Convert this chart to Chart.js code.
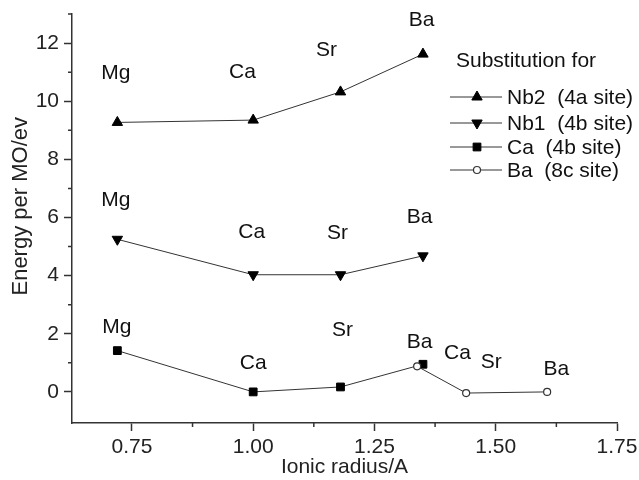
<!DOCTYPE html>
<html><head><meta charset="utf-8">
<script src="https://cdn.jsdelivr.net/npm/chart.js@4"></script>
<style>html,body{margin:0;padding:0;background:#fff}#wrap{width:639px;height:480px}</style>
</head><body><div id="wrap"><canvas id="c" width="639" height="480"></canvas></div>
<script>
// ---- data ----
const nb2X = [0.72, 1.00, 1.18, 1.35];
const nb2Y = [9.27, 9.35, 10.32, 11.62];
const nb1X = [0.72, 1.00, 1.18, 1.35];
const nb1Y = [5.25, 4.03, 4.03, 4.68];
const ca4bX = [0.72, 1.00, 1.18, 1.35];
const ca4bY = [1.42, 0.0, 0.17, 0.95];
const ba8cX = [1.338, 1.439, 1.606];
const ba8cY = [0.88, -0.04, 0.0];
const seriesNames = ['Nb2  (4a site)', 'Nb1  (4b site)', 'Ca  (4b site)', 'Ba  (8c site)'];
const xMajorTicks = [0.75, 1.00, 1.25, 1.50, 1.75];
const xMinorTicks = [0.875, 1.125, 1.375, 1.625];
const yMajorTicks = [0, 2, 4, 6, 8, 10, 12];
const yMinorTicks = [1, 3, 5, 7, 9, 11, 13];
const labelText = ['Mg','Ca','Sr','Ba', 'Mg','Ca','Sr','Ba', 'Mg','Ca','Sr','Ba','Ca','Sr','Ba'];
const labelX = [0.717,0.978,1.151,1.347, 0.717,0.997,1.174,1.343, 0.719,1.0,1.184,1.343,1.421,1.491,1.625];
const labelY = [10.97,11.0,11.76,12.79, 6.6,5.5,5.47,6.02, 2.24,1.0,2.13,1.72,1.34,1.03,0.79];

const FONT = "'Liberation Sans', Arial, sans-serif";
Chart.defaults.font.family = FONT;
Chart.defaults.color = '#222';

const pts = (xs, ys) => xs.map((x, i) => ({x, y: ys[i]}));

const styles = [
  {pointStyle:'triangle', radius:6, rotation:0, fill:'#000', border:'#000', bw:1},
  {pointStyle:'triangle', radius:6, rotation:180, fill:'#000', border:'#000', bw:1},
  {pointStyle:'rect', radius:5.5, rotation:0, fill:'#000', border:'#000', bw:1},
  {pointStyle:'circle', radius:3.5, rotation:0, fill:'#fff', border:'#333', bw:1.2}
];
const seriesData = [pts(nb2X,nb2Y), pts(nb1X,nb1Y), pts(ca4bX,ca4bY), pts(ba8cX,ba8cY)];

const datasets = seriesData.map((d, i) => ({
  label: seriesNames[i],
  data: d,
  showLine: true,
  borderColor: '#333',
  borderWidth: 1,
  pointStyle: styles[i].pointStyle,
  pointRadius: styles[i].radius,
  pointRotation: styles[i].rotation,
  pointBackgroundColor: styles[i].fill,
  pointBorderColor: styles[i].border,
  pointBorderWidth: styles[i].bw,
  order: i === 3 ? 0 : 1
}));

const minorTicksPlugin = {
  id: 'minorTicks',
  afterDraw(chart) {
    const {ctx, scales:{x, y}} = chart;
    ctx.save();
    ctx.strokeStyle = '#333';
    ctx.lineWidth = 1.5;
    ctx.beginPath();
    xMinorTicks.forEach(v => {
      const px = x.getPixelForValue(v);
      ctx.moveTo(px, x.top); ctx.lineTo(px, x.top + 4);
    });
    yMinorTicks.forEach(v => {
      const py = y.getPixelForValue(v);
      ctx.moveTo(y.right, py); ctx.lineTo(y.right - 4, py);
    });
    ctx.stroke();
    ctx.restore();
  }
};

const labelsPlugin = {
  id: 'pointLabels',
  afterDatasetsDraw(chart) {
    const {ctx, scales:{x, y}} = chart;
    ctx.save();
    ctx.fillStyle = '#111';
    ctx.font = '21px ' + FONT;
    ctx.textAlign = 'center';
    ctx.textBaseline = 'middle';
    labelText.forEach((t, i) => {
      ctx.fillText(t, x.getPixelForValue(labelX[i]), y.getPixelForValue(labelY[i]));
    });
    ctx.restore();
  }
};

const legendPlugin = {
  id: 'insideLegend',
  afterDatasetsDraw(chart) {
    const ctx = chart.ctx;
    ctx.save();
    ctx.fillStyle = '#111';
    ctx.font = '21px ' + FONT;
    ctx.textAlign = 'left';
    ctx.textBaseline = 'middle';
    ctx.fillText('Substitution for', 456, 61);
    const rows = [97, 123, 147, 170];
    chart.data.datasets.forEach((ds, i) => {
      const yy = rows[i];
      ctx.strokeStyle = '#333';
      ctx.lineWidth = 1;
      ctx.beginPath(); ctx.moveTo(450, yy); ctx.lineTo(502, yy); ctx.stroke();
      ctx.fillStyle = ds.pointBackgroundColor;
      ctx.strokeStyle = ds.pointBorderColor;
      ctx.lineWidth = ds.pointBorderWidth;
      Chart.helpers.drawPoint(ctx, {pointStyle: ds.pointStyle, radius: ds.pointRadius, rotation: ds.pointRotation, borderWidth: ds.pointBorderWidth}, 477, yy);
      ctx.fillStyle = '#111';
      ctx.fillText(ds.label, 507, yy + 1);
    });
    ctx.restore();
  }
};

new Chart(document.getElementById('c'), {
  type: 'scatter',
  data: {datasets},
  options: {
    responsive: false,
    animation: false,
    devicePixelRatio: 1,
    layout: {padding: {left: 0, right: 22, top: 14, bottom: 0}},
    plugins: {legend: {display: false}, tooltip: {enabled: false}},
    scales: {
      x: {
        type: 'linear', min: 0.6265, max: 1.75,
        afterBuildTicks: s => { s.ticks = xMajorTicks.map(v => ({value: v})); },
        afterFit: s => { s.height = 57; s.paddingRight = 0; s.paddingLeft = 0; },
        ticks: {callback: v => Number(v).toFixed(2), font: {size: 21}, color: '#222', padding: 4, autoSkip: false, maxRotation: 0},
        grid: {display: true, drawOnChartArea: false, drawTicks: true, tickLength: 8, tickColor: '#333', tickWidth: 1.5},
        border: {display: true, color: '#333', width: 1.5},
        title: {display: true, text: 'Ionic radius/A', font: {size: 21}, color: '#222', padding: {top: 0, bottom: 0}}
      },
      y: {
        type: 'linear', min: -1.07, max: 13,
        afterBuildTicks: s => { s.ticks = yMajorTicks.map(v => ({value: v})); },
        afterFit: s => { s.width = 72; s.paddingTop = 0; s.paddingBottom = 0; },
        ticks: {callback: v => String(v), font: {size: 21}, color: '#222', padding: 5, autoSkip: false},
        grid: {display: true, drawOnChartArea: false, drawTicks: true, tickLength: 8, tickColor: '#333', tickWidth: 1.5},
        border: {display: true, color: '#333', width: 1.5},
        title: {display: true, text: '\u00a0\u00a0\u00a0\u00a0Energy per MO/ev', font: {size: 22}, color: '#222', padding: {top: 8, bottom: 0}}
      }
    }
  },
  plugins: [minorTicksPlugin, labelsPlugin, legendPlugin]
});
</script>
</body></html>
